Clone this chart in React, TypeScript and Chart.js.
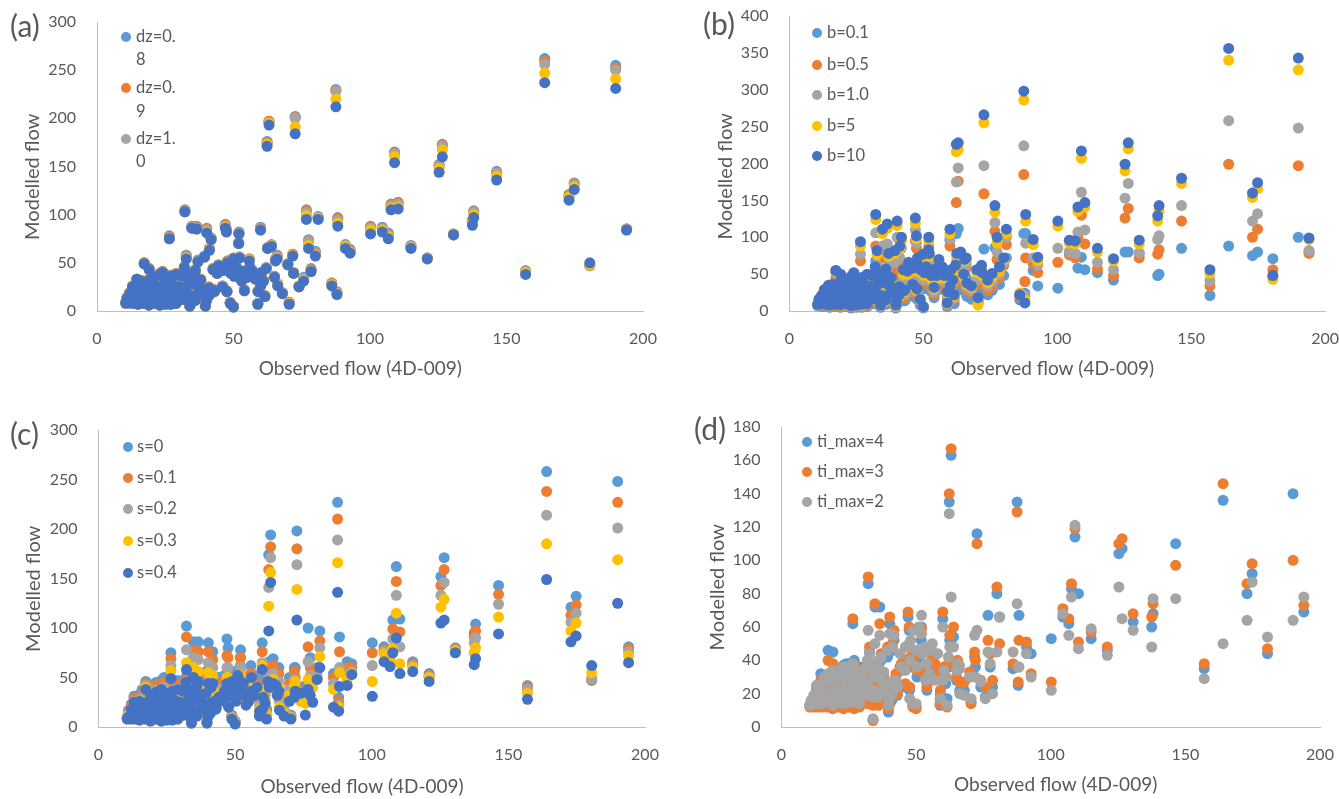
import React, { useEffect, useRef } from "react";
import { Chart, registerables } from "chart.js";

Chart.register(...registerables);

const observedFlow = [
  164,190,194,109,107.7,110.3,104.5,106.7,100.2,115,121,125.3,126.5,130.6,137.5,138,146.4,157,172.9,174.8,180.5,
  62.3,63,72.6,87.5,32.2,34.7,36.5,40.2,41.8,41.2,39.4,37,32.7,26.5,17.3,19.1,14.6,
  47,47.4,52,51.9,59.9,62.5,63.9,66,65.4,71.7,69.9,76.7,81,88.2,91,92.7,77.5,80,78.4,75.7,86,87.9,66.2,67.9,70.4,61.5,58.9,59,60,47.6,48.8,50,39.7,34,42.5,44.5,47.8,50,52.2,55.8,53.5,57,60.3,50.3,55,61,43,41,
  10.5,12,13.5,15,17,19,21,23,25,27,29,12,13.5,15.5,17.5,20,22,24,26,28,30,32,34,36,38,13,15,17.5,20,22,24,26,28,30,33,35,37,39,41,43,21,23,25,27,29,31,33,36,38,32,36,
  44,46,48,49,51,53,56,58,62,46,54,65,72,74,11,14,16,19,24,34,
  12,14,16,18,20,22,24,26,28,30,32,34,36,40,14,16,18,20,22,24,26,28,30,32,
];

const dz08 = [
  262,255,85,165,111,113,87,81,88,68,55,152,173,80,94,104,145,42,121,133,47,
  176,197,202,230,105,88,88,86,76,65,57,53,58,78,50,44,33,
  90,85,82,71,87,66,69,58,54,59,49,105,98,97,69,64,74,62,44,35,29,20,28,19,9,16,8,21,28,21,9,5,6,6,44,48,52,55,56,54,42,42,40,37,36,32,22,17,
  9,9,9,8,9,7,9,7,8,8,9,19,17,20,16,19,16,19,16,18,16,19,17,16,19,26,27,26,28,26,28,26,28,26,27,29,26,23,25,21,36,39,35,37,39,37,39,37,33,46,43,
  40,43,45,40,46,32,46,34,45,26,22,36,40,26,14,13,32,33,41,33,
  13,12,13,12,13,12,13,12,13,12,13,12,12,11,23,22,23,22,23,22,23,22,23,22,
];
const dz09 = [
  259,252,85,164,110,112,86,80,87,67,55,151,172,80,93,103,144,41,120,132,47,
  175,197,201,229,104,87,87,85,75,65,57,52,57,77,50,44,33,
  89,84,81,71,86,66,68,57,54,59,49,104,97,96,68,63,73,61,43,34,29,19,28,19,9,16,8,21,28,21,9,5,5,5,44,47,52,55,56,54,42,42,40,37,36,32,22,17,
  9,9,8,8,9,7,9,7,8,8,9,19,17,20,16,19,16,19,16,18,16,19,17,16,19,26,27,26,28,26,28,26,28,26,27,29,26,23,25,21,36,39,35,37,39,37,39,37,33,46,43,
  40,43,45,40,46,32,46,34,45,26,22,36,40,26,14,13,32,33,41,33,
  13,12,13,12,13,12,13,12,13,12,13,12,12,11,23,22,23,22,23,22,23,22,23,22,
];
const dz10 = [
  256,250,85,163,109,111,85,79,86,67,55,150,171,79,92,102,143,41,119,131,47,
  174,196,200,228,103,87,86,84,75,64,56,52,56,76,49,43,33,
  88,83,81,70,85,65,68,56,53,58,48,102,97,94,68,62,72,60,42,34,28,19,27,19,8,15,8,21,27,20,8,5,5,5,43,47,51,54,56,53,42,42,40,37,36,32,21,16,
  9,9,8,8,8,6,8,6,7,7,8,18,16,19,15,18,15,18,15,17,15,18,16,15,18,25,26,25,27,25,27,25,27,25,26,28,25,22,24,20,35,38,34,36,38,36,38,36,32,45,42,
  39,42,45,40,45,32,46,34,45,26,22,36,40,26,13,13,31,32,40,32,
  13,12,13,12,13,12,12,12,13,12,12,12,12,11,22,22,23,22,22,22,23,22,22,22,
];
const dz11 = [
  247,241,84,160,107,108,84,77,84,66,54,148,167,79,91,100,140,40,118,129,48,
  173,195,191,220,103,86,85,82,74,64,56,51,55,75,49,43,33,
  87,83,80,70,84,65,68,55,52,58,48,99,96,91,67,61,68,58,41,32,27,18,27,18,8,15,7,20,27,20,8,4,5,5,43,47,50,54,55,53,42,41,40,36,35,32,21,16,
  8,9,8,7,8,6,8,6,7,7,8,18,16,19,15,18,15,18,15,17,15,18,16,15,18,25,26,25,27,25,27,25,27,25,26,28,25,22,24,20,35,38,34,36,38,36,38,36,32,45,42,
  39,42,44,39,45,31,45,33,44,25,21,35,39,25,13,12,31,32,40,32,
  12,11,12,11,12,11,12,11,12,11,12,11,11,10,22,21,22,21,22,21,22,21,22,21,
];
const dz12 = [
  237,231,84,154,105,106,82,75,80,65,54,144,160,79,89,97,136,38,115,126,50,
  171,193,184,212,103,86,85,81,74,63,56,51,54,75,49,43,33,
  86,82,80,70,84,65,67,54,52,57,48,95,95,88,65,60,65,57,41,31,26,17,26,18,7,15,7,20,26,20,8,4,5,5,43,47,50,54,55,52,41,41,40,36,35,31,21,16,
  8,8,8,7,8,6,8,6,7,7,8,18,16,19,15,18,15,18,15,17,15,18,16,15,18,25,26,25,27,25,27,25,27,25,26,28,25,22,24,20,35,38,34,36,38,36,38,36,32,45,42,
  39,42,44,39,45,31,45,33,44,25,21,35,39,25,13,12,31,32,40,32,
  12,11,12,11,12,11,12,11,12,11,12,11,11,10,22,21,22,21,22,21,22,21,22,21,
];

const b01 = [
  88,100,81,73,58,56,80,74,31,52,42,80,80,78,48,50,85,21,75,80,71,
  105,112,84,105,68,50,52,60,50,40,38,36,38,45,36,32,22,
  65,62,60,50,96,60,62,45,40,30,25,86,72,105,55,34,50,48,36,28,15,24,20,16,14,10,6,14,18,16,8,4,4,5,28,36,40,44,48,46,38,38,36,30,28,26,14,12,
  7,6,6,5,6,5,6,4,5,5,6,12,11,13,10,12,10,13,11,12,10,13,11,10,13,16,17,16,18,17,18,17,19,17,18,19,17,15,17,14,24,26,23,25,26,24,26,25,22,30,28,
  28,30,32,30,34,26,36,28,34,20,18,28,30,22,9,8,20,21,27,22,
  9,8,9,8,10,9,10,9,10,9,10,9,9,8,15,15,16,15,16,16,16,16,17,16,
];
const b05 = [
  199,197,78,130,100,91,76,72,66,57,48,126,139,72,77,83,122,34,100,111,56,
  147,176,159,185,88,72,75,80,66,62,52,50,48,68,44,38,27,
  95,85,75,62,88,68,70,58,52,44,36,108,90,72,64,52,70,62,45,34,20,40,28,25,12,16,8,18,24,22,12,5,6,6,36,45,52,56,58,56,42,46,44,38,36,34,20,16,
  8,8,7,6,7,6,7,5,6,6,7,15,13,16,13,15,13,16,13,15,13,16,14,13,16,20,21,21,22,21,23,21,24,21,23,24,22,20,21,18,29,31,28,30,32,30,32,31,28,38,36,
  36,38,42,38,42,32,44,34,44,26,22,36,38,28,11,10,24,26,33,28,
  11,10,12,11,12,11,12,12,13,12,13,12,12,11,19,19,20,19,21,20,21,21,22,21,
];
const b10 = [
  258,248,82,161,107,110,80,78,85,66,56,153,173,79,97,102,143,41,122,132,47,
  175,194,197,224,106,88,91,100,85,72,66,62,62,77,52,44,31,
  110,92,88,72,98,74,76,64,60,52,42,120,100,92,72,62,80,66,50,40,24,20,32,28,10,18,9,22,28,26,14,5,6,7,44,52,60,64,66,64,44,50,48,42,40,38,22,18,
  8,9,8,7,8,7,8,6,7,7,9,18,16,19,15,19,16,19,16,18,16,20,17,17,21,24,25,25,28,26,28,26,29,27,29,31,28,25,27,23,36,38,35,37,40,38,41,40,36,48,46,
  42,46,50,46,50,38,52,40,50,30,26,42,44,34,13,12,30,32,42,36,
  13,12,13,13,14,13,14,13,14,14,15,13,13,12,22,22,23,22,24,23,24,24,25,24,
];
const b5 = [
  340,327,97,207,135,141,92,91,115,80,68,190,220,91,122,136,173,51,154,166,43,
  216,219,255,286,124,105,112,116,95,85,78,74,76,88,55,48,34,
  119,98,95,78,105,76,78,70,68,58,52,134,105,122,90,68,92,70,54,46,24,15,36,32,8,20,10,24,32,28,16,6,7,8,50,60,68,72,74,68,50,54,52,48,44,40,26,20,
  9,10,9,8,9,7,9,7,8,8,10,20,18,22,17,21,18,22,18,21,18,23,20,19,24,28,29,29,32,30,33,31,34,32,34,37,33,29,31,26,41,45,40,43,47,45,49,47,42,57,54,
  50,54,58,52,58,44,58,44,54,34,30,46,48,38,15,14,34,38,48,42,
  14,13,14,14,15,14,15,14,16,14,16,14,14,13,24,24,25,24,26,25,26,26,27,26,
];
const b100 = [
  356,343,99,217,141,147,96,95,122,85,71,199,228,96,129,143,180,56,160,174,48,
  226,228,266,298,131,111,118,122,100,88,82,78,82,94,55,50,35,
  126,102,100,83,111,78,80,72,70,62,56,143,111,131,97,73,100,72,60,51,22,11,38,34,18,22,11,26,34,30,16,6,8,8,56,66,72,77,78,70,56,60,56,52,48,42,28,22,
  9,10,9,8,9,8,10,7,8,9,10,21,19,23,18,22,19,23,19,22,19,24,21,20,25,29,31,30,34,32,35,33,36,34,36,39,35,31,33,28,43,47,42,45,50,48,52,50,45,60,57,
  54,58,62,56,60,48,62,48,62,36,32,50,52,42,16,15,36,40,52,44,
  15,14,15,14,16,15,16,15,17,15,17,15,15,14,26,25,27,26,28,27,28,28,29,28,
];

const s00 = [
  258,248,81,162,108,109,81,78,85,66,54,152,171,80,95,104,143,42,121,132,47,
  174,194,198,227,102,86,86,85,76,66,56,52,54,75,46,40,30,
  89,80,78,70,85,66,69,60,58,60,50,100,97,91,66,64,70,60,56,42,54,30,38,28,12,18,14,30,34,36,12,6,5,5,46,50,52,56,60,62,50,52,48,46,44,40,30,24,
  10,11,10,9,10,8,10,8,9,9,10,23,21,25,20,24,20,24,20,23,21,24,21,20,24,31,33,33,35,33,36,33,36,34,35,37,33,29,31,26,45,47,44,46,47,46,47,46,41,50,48,
  50,52,54,50,54,46,54,46,56,40,36,50,60,40,17,15,38,40,50,41,
  16,15,16,15,16,15,16,15,16,15,16,15,15,14,29,28,29,28,29,28,29,28,29,28,
];
const s01 = [
  238,227,79,147,99,96,78,74,75,64,52,143,159,79,91,97,134,40,113,123,48,
  159,182,180,210,91,77,76,76,68,60,52,48,48,69,44,38,28,
  72,70,70,62,76,60,62,54,50,56,44,81,87,76,60,60,60,56,50,36,50,26,32,24,11,16,13,26,30,30,11,5,5,5,42,44,46,50,52,54,46,46,42,40,38,36,26,22,
  9,10,9,8,9,7,9,7,8,8,9,21,19,22,18,21,18,22,18,21,19,22,19,18,22,29,30,29,32,30,33,30,32,30,32,34,30,27,28,24,42,43,40,42,43,42,43,42,37,47,44,
  44,46,48,46,50,42,50,42,50,36,32,44,50,36,15,14,34,36,45,37,
  15,14,15,14,15,14,15,14,15,14,15,14,14,13,27,26,27,26,27,26,27,26,27,26,
];
const s02 = [
  214,201,76,133,89,81,76,70,62,62,51,133,146,78,85,90,124,38,106,115,49,
  141,171,164,189,78,70,68,65,60,54,46,42,44,62,42,36,27,
  60,60,60,54,65,52,54,46,44,48,38,66,80,60,52,56,52,50,46,30,44,22,26,18,10,14,12,22,24,26,10,5,5,4,36,38,40,44,46,48,40,40,38,36,34,32,24,18,
  9,9,9,8,9,7,9,7,8,8,9,19,17,20,16,19,16,20,16,18,17,20,17,16,19,26,27,26,28,26,29,26,29,27,28,30,27,24,25,22,37,39,35,37,39,37,39,37,33,43,40,
  38,40,44,42,46,38,46,38,44,32,28,38,44,30,14,13,30,32,40,33,
  14,13,14,13,14,13,14,13,14,13,14,13,13,12,25,24,25,24,25,24,25,24,25,24,
];
const s03 = [
  185,169,72,115,79,64,74,66,46,60,50,121,129,77,75,80,111,34,97,105,55,
  122,156,139,166,65,60,56,55,52,46,40,38,38,57,40,34,26,
  50,50,52,48,62,46,48,40,38,42,32,48,71,55,48,54,42,48,40,24,38,20,20,14,9,12,12,18,20,22,9,4,4,4,32,34,36,38,42,42,36,36,34,30,30,28,20,16,
  8,8,8,7,8,6,8,6,7,7,8,17,15,18,14,17,14,17,14,16,15,17,15,14,17,23,24,23,25,23,25,23,25,23,25,26,24,22,23,19,33,34,31,33,34,33,34,33,29,39,36,
  34,36,40,38,42,34,42,34,40,28,24,36,46,26,12,11,26,28,36,29,
  12,11,12,11,12,11,12,11,12,11,12,11,11,10,22,21,22,21,22,21,22,21,22,21,
];
const s04 = [
  149,125,65,90,75,54,66,61,31,56,46,105,108,75,63,69,94,28,86,92,62,
  97,146,108,136,58,50,46,44,44,40,34,32,34,49,38,32,25,
  44,42,46,42,58,40,44,36,32,30,26,38,60,41,42,53,32,48,25,12,20,16,17,11,8,8,11,16,18,20,8,3,4,4,26,30,32,34,38,36,32,32,30,26,26,24,18,14,
  8,8,8,7,8,6,8,6,7,7,8,18,16,19,15,18,15,18,15,17,15,18,16,15,18,25,26,25,27,25,27,25,27,25,26,28,25,22,24,20,35,38,34,36,38,36,38,36,32,45,42,
  30,36,40,46,52,44,50,40,46,26,22,42,36,34,10,9,24,25,30,25,
  12,11,12,11,12,11,12,11,12,11,12,11,11,10,22,21,22,21,22,21,22,21,22,21,
];

const tiMax4 = [
  136,140,69,114,83,80,66,62,53,53,46,104,107,63,60,68,110,35,80,92,44,
  135,163,116,135,86,72,72,62,52,46,42,40,45,62,46,45,32,
  66,58,60,52,65,52,54,35,38,42,30,67,66,67,48,44,36,80,24,18,35,25,22,22,15,17,13,20,28,22,13,12,9,4,30,34,36,40,44,38,32,36,34,30,28,26,20,16,
  13,13,14,13,13,12,13,12,13,12,13,17,16,18,16,18,17,19,17,18,16,18,16,15,17,23,24,25,28,27,30,28,30,27,26,25,23,21,22,19,35,37,38,40,36,34,33,31,28,40,38,
  34,38,40,36,42,30,40,30,36,24,22,28,36,24,15,15,26,30,38,32,
  14,14,15,15,15,15,15,15,15,15,15,14,14,14,21,22,23,23,24,24,24,24,23,23,
];
const tiMax3 = [
  146,100,73,119,86,51,71,65,27,57,48,110,113,68,66,74,97,38,86,98,47,
  140,167,110,129,90,74,62,66,58,50,48,44,48,65,40,38,28,
  69,60,59,56,69,55,60,37,40,45,33,52,50,52,51,32,44,84,28,24,38,27,27,27,14,12,14,22,30,24,12,11,11,4,32,38,38,44,46,40,36,38,36,34,30,30,22,18,
  12,12,12,12,12,11,12,11,12,11,12,16,15,17,15,17,16,18,16,17,15,17,15,14,16,21,22,23,26,25,28,26,28,25,25,27,24,22,23,20,31,34,36,37,34,32,35,33,30,38,36,
  36,40,42,38,44,32,42,32,38,26,24,30,40,28,14,14,24,28,36,30,
  13,13,14,14,14,14,14,14,14,14,14,13,13,13,20,21,22,22,23,23,23,23,22,22,
];
const tiMax2 = [
  50,64,78,121,78,47,68,55,22,59,43,84,65,58,48,77,77,29,64,87,54,
  128,78,58,74,58,50,55,56,55,48,46,42,44,38,32,32,24,
  48,50,67,56,60,48,48,36,38,55,30,45,66,36,44,30,38,45,20,17,45,36,20,19,17,13,17,17,28,17,14,14,13,5,28,36,40,46,44,46,28,28,34,36,32,30,25,20,
  13,14,14,14,15,13,15,14,15,15,14,19,18,21,20,22,21,23,22,24,22,23,22,21,22,25,26,28,31,30,33,31,32,29,29,30,28,26,27,24,34,36,35,33,33,35,38,36,33,40,40,
  44,48,52,58,60,48,50,44,42,34,38,34,30,27,16,16,30,34,36,34,
  17,17,18,19,19,20,20,20,19,19,19,18,18,17,25,26,27,27,28,28,28,28,27,27,
];

const COLORS = ["#5B9BD5", "#ED7D31", "#A5A5A5", "#FFC000", "#4472C4"];
const INK = "#595959";
const FONT = "Lato";
const X_TITLE = "Observed flow (4D-009)";
const Y_TITLE = "Modelled flow";
const X_TITLE_SIZE = 19;
const Y_TITLE_SIZE = 20;

const panels = [
  {
    tag: "(a)", tagPos: [10, 27], box: [0, 0, 670, 400], plot: [97, 22, 643, 311], yMax: 300, yStep: 50,
    yTitleX: 33, xTitleY: 369, xTitle: X_TITLE + "    ", yTitle: Y_TITLE + "    ",
    series: [["dz=0.8", dz08], ["dz=0.9", dz09], ["dz=1.0", dz10], ["dz=1.1", dz11], ["dz=1.2", dz12]],
    legendX: 126, legendTextX: 136,
    legend: [
      { color: 0, y: 37, lines: [["dz=0.", 37], ["8", 60]] },
      { color: 1, y: 88, lines: [["dz=0.", 88], ["9", 112]] },
      { color: 2, y: 139, lines: [["dz=1.", 139], ["0", 162]] },
    ],
  },
  {
    tag: "(b)", tagPos: [703, 25], box: [670, 0, 669, 400], plot: [789.5, 16, 1326, 311], yMax: 400, yStep: 50,
    yTitleX: 726, xTitleY: 369, xTitle: X_TITLE + "  ", yTitle: Y_TITLE + "     ",
    series: [["b=0.1", b01], ["b=0.5", b05], ["b=1.0", b10], ["b=5", b5], ["b=10", b100]],
    legendX: 817, legendTextX: 827,
    legend: [
      { color: 0, y: 33, lines: [["b=0.1", 33]] },
      { color: 1, y: 65, lines: [["b=0.5", 65]] },
      { color: 2, y: 95, lines: [["b=1.0", 95]] },
      { color: 3, y: 126, lines: [["b=5", 126]] },
      { color: 4, y: 156, lines: [["b=10", 156]] },
    ],
  },
  {
    tag: "(c)", tagPos: [10, 435], box: [0, 400, 670, 399], plot: [98.5, 430, 645, 727], yMax: 300, yStep: 50,
    yTitleX: 34, xTitleY: 787, xTitle: X_TITLE + "    ", yTitle: Y_TITLE + "    ",
    series: [["s=0", s00], ["s=0.1", s01], ["s=0.2", s02], ["s=0.3", s03], ["s=0.4", s04]],
    legendX: 128, legendTextX: 137,
    legend: [
      { color: 0, y: 447, lines: [["s=0", 447]] },
      { color: 1, y: 478, lines: [["s=0.1", 478]] },
      { color: 2, y: 509, lines: [["s=0.2", 509]] },
      { color: 3, y: 541, lines: [["s=0.3", 541]] },
      { color: 4, y: 573, lines: [["s=0.4", 573]] },
    ],
  },
  {
    tag: "(d)", tagPos: [694, 430], box: [670, 400, 669, 399], plot: [781.5, 427, 1320, 727], yMax: 180, yStep: 20,
    yTitleX: 718, xTitleY: 785, xTitle: "  " + X_TITLE, yTitle: Y_TITLE + "    ",
    series: [["ti_max=4", tiMax4], ["ti_max=3", tiMax3], ["ti_max=2", tiMax2]],
    legendX: 807, legendTextX: 817,
    legend: [
      { color: 0, y: 442, lines: [["ti_max=4", 442]] },
      { color: 1, y: 472, lines: [["ti_max=3", 472]] },
      { color: 2, y: 502, lines: [["ti_max=2", 502]] },
    ],
  },
];

function Panel({ panel }: { panel: any }) {
  const ref = useRef<HTMLCanvasElement>(null);
  useEffect(() => {
    const [bx, by, bw, bh] = panel.box;
    const [pl, pt, pr, pb] = panel.plot;
    const padLeft = panel.yTitleX - bx - (Y_TITLE_SIZE * 1.2) / 2;
    const padBottom = by + bh - panel.xTitleY - (X_TITLE_SIZE * 1.2) / 2;
    const decor = {
      id: "panelDecor",
      afterDraw(chart: any) {
        const { ctx } = chart;
        ctx.save();
        ctx.textBaseline = "middle";
        ctx.textAlign = "left";
        ctx.fillStyle = INK;
        ctx.font = `30px ${FONT}`;
        ctx.fillText(panel.tag, panel.tagPos[0] - bx, panel.tagPos[1] - by);
        for (const item of panel.legend) {
          ctx.beginPath();
          ctx.fillStyle = COLORS[item.color];
          ctx.arc(panel.legendX - bx, item.y - by, 5, 0, Math.PI * 2);
          ctx.fill();
          ctx.fillStyle = INK;
          ctx.font = `16.5px ${FONT}`;
          for (const [text, y] of item.lines) ctx.fillText(text, panel.legendTextX - bx, y - by);
        }
        ctx.restore();
      },
    };
    const chart = new Chart(ref.current as HTMLCanvasElement, {
      type: "scatter",
      data: {
        datasets: panel.series.map(([label, values]: [string, number[]], i: number) => ({
          label,
          data: observedFlow.map((x, k) => ({ x, y: values[k] })),
          backgroundColor: COLORS[i],
          borderWidth: 0,
          pointRadius: 5.5,
          pointHoverRadius: 5.5,
          order: -i,
          clip: false,
        })),
      },
      options: {
        animation: false,
        responsive: false,
        layout: { padding: { left: padLeft, top: pt - by, right: bx + bw - pr, bottom: padBottom } },
        plugins: { legend: { display: false }, tooltip: { enabled: false } },
        scales: {
          x: {
            type: "linear", min: 0, max: 200,
            grid: { display: false, drawTicks: true, tickLength: 18 },
            border: { display: true, color: "#BFBFBF", width: 1 },
            ticks: { stepSize: 50, color: INK, font: { family: FONT, size: 16 }, padding: 0, maxRotation: 0 },
            title: { display: true, text: panel.xTitle, color: INK, font: { family: FONT, size: X_TITLE_SIZE }, padding: 0 },
            afterFit: (s: any) => { s.height = by + bh - padBottom - pb; },
          },
          y: {
            type: "linear", min: 0, max: panel.yMax,
            grid: { display: false, drawTicks: true, tickLength: 21 },
            border: { display: true, color: "#BFBFBF", width: 1 },
            ticks: { stepSize: panel.yStep, color: INK, font: { family: FONT, size: 16 }, padding: 0, autoSkip: false },
            title: { display: true, text: panel.yTitle, color: INK, font: { family: FONT, size: Y_TITLE_SIZE }, padding: 0 },
            afterFit: (s: any) => { s.width = pl - bx - padLeft; },
          },
        },
      },
      plugins: [decor],
    } as any);
    return () => chart.destroy();
  }, [panel]);
  const [left, top, width, height] = panel.box;
  return (
    <canvas
      ref={ref}
      width={width}
      height={height}
      style={{ position: "absolute", left, top, width, height, filter: "blur(0.4px)" }}
    />
  );
}

export default function App() {
  return (
    <div style={{ position: "absolute", left: 0, top: 0, width: 1339, height: 799, background: "#fff", overflow: "hidden" }}>
      {panels.map((p) => <Panel key={p.tag} panel={p} />)}
    </div>
  );
}
